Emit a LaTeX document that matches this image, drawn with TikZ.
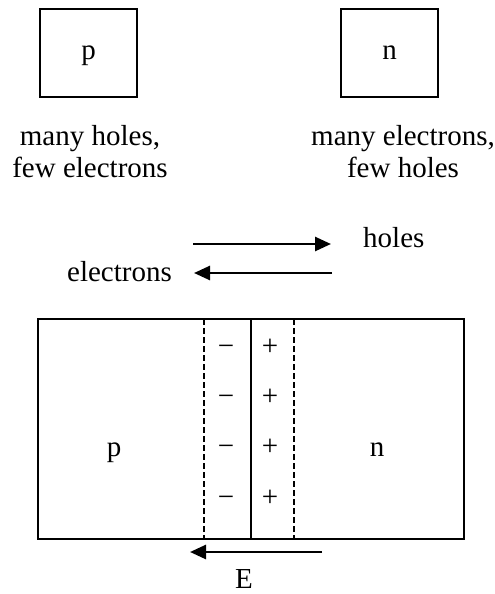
\documentclass[tikz,border=0pt]{standalone}
\usepackage{fontspec}
\setmainfont{Liberation Serif}
\usetikzlibrary{arrows.meta}
\begin{document}
\begin{tikzpicture}[x=1pt,y=-1pt,
  box/.style={draw,line width=1.7pt,inner sep=0pt,font=\fontsize{29}{32}\selectfont,text height=13.5pt,text depth=0pt},
  lbl/.style={font=\fontsize{29}{32}\selectfont,inner sep=0pt,align=center},
  arr/.style={line width=2.6pt,-{Triangle[length=16pt,width=14pt]}},
  dashline/.style={line width=1.3pt,dash pattern=on 6pt off 3pt},
  sym/.style={font=\fontsize{29}{32}\selectfont,inner sep=0pt,anchor=base}]
\useasboundingbox (0,0) rectangle (495,594);
% top boxes
\node[box,minimum width=97pt,minimum height=88pt] (pbox) at (88.5,53) {p};
\node[box,minimum width=97pt,minimum height=88pt] (nbox) at (389.5,53) {n};
\node[lbl,anchor=north] (plbl) at (90,125) {many holes,\\few electrons};
\node[lbl,anchor=north] (nlbl) at (403,125) {many electrons,\\few holes};
% carriers
\node[lbl,anchor=base west] (holes) at (363,247) {holes};
\node[lbl,anchor=base east] (electrons) at (172,281) {electrons};
\coordinate (h1) at (193,244);
\coordinate (h2) at (331,244);
\coordinate (e1) at (332,273);
\coordinate (e2) at (194,273);
\draw[arr] (h1) -- (h2);
\draw[arr] (e1) -- (e2);
% junction
\node[box,minimum width=426pt,minimum height=220pt] (big) at (251,429) {};
\coordinate (dlt) at (204,319); \coordinate (dlb) at (204,539);
\coordinate (slt) at (251,319); \coordinate (slb) at (251,539);
\coordinate (drt) at (294,319); \coordinate (drb) at (294,539);
\draw[dashline] (dlt) -- (dlb);
\draw[line width=1.3pt] (slt) -- (slb);
\draw[dashline] (drt) -- (drb);
\foreach \y/\i in {347/1,397/2,447/3,498/4}{
  \node[sym] (m\i) at (226,\y+8) {−};
  \node[sym] (pl\i) at (270,\y+8) {+};
}
\node[sym] (pbig) at (114,456) {p};
\node[sym] (nbig) at (377,456) {n};
% field
\coordinate (f1) at (322,552);
\coordinate (f2) at (190,552);
\draw[arr] (f1) -- (f2);
\node[sym] (E) at (244,588) {E};
\end{tikzpicture}
\end{document}
